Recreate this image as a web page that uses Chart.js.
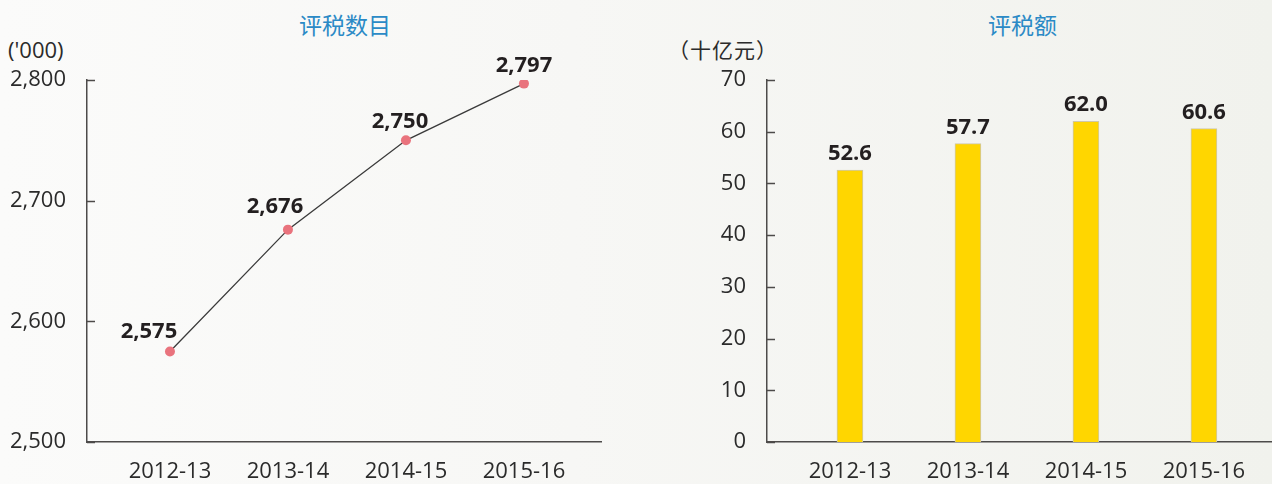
<!DOCTYPE html>
<html>
<head>
<meta charset="utf-8">
<script src="https://cdn.jsdelivr.net/npm/chart.js@4/dist/chart.umd.min.js"></script>
<style>
  html, body { margin: 0; padding: 0; }
  body {
    width: 1272px; height: 484px; overflow: hidden; position: relative;
    background: linear-gradient(90deg, #fbfbfa 0%, #f7f7f5 45%, #f1f2ed 100%);
  }
  canvas { position: absolute; top: 0; }
  #countChart { left: 0; }
  #amountChart { left: 620px; }
  .title { position: absolute; top: 13px; font: 23px "Noto Sans CJK SC", sans-serif; color: #2b8ac6; line-height: 23px; }
  .unit { position: absolute; color: #2b2b2b; line-height: 22px; }
</style>
</head>
<body>
<div class="title" style="left:299px">评税数目</div>
<div class="title" style="left:988px">评税额</div>
<div class="unit" style="left:8px; top:34px; font: 22px 'Open Sans', sans-serif;">('000)</div>
<div class="unit" style="left:668px; top:34px; font: 21px 'Noto Sans CJK SC', sans-serif; letter-spacing: 1px;">（十亿元）</div>
<canvas id="countChart" width="620" height="484"></canvas>
<canvas id="amountChart" width="652" height="484"></canvas>
<script>
const years = ['2012-13', '2013-14', '2014-15', '2015-16'];
const assessmentCount = [2575, 2676, 2750, 2797];   // '000
const assessedAmount = [52.6, 57.7, 62.0, 60.6];    // HK$ billion
const countTicks = [2500, 2600, 2700, 2800];
const amountTicks = [0, 10, 20, 30, 40, 50, 60, 70];

const ink = '#2b2b2b';
const axisColor = '#4d4b4a';
Chart.defaults.font.family = "'Open Sans', sans-serif";
Chart.defaults.font.size = 22;
Chart.defaults.color = ink;

// small tick marks drawn inside the y axis
const innerTicks = {
  id: 'innerTicks',
  afterDraw(chart) {
    const y = chart.scales.y, ctx = chart.ctx, left = chart.chartArea.left;
    ctx.save();
    ctx.strokeStyle = axisColor;
    ctx.lineWidth = 1.5;
    y.ticks.forEach(t => {
      const py = Math.round(y.getPixelForValue(t.value)) + 0.5;
      ctx.beginPath();
      ctx.moveTo(left, py);
      ctx.lineTo(left + 8, py);
      ctx.stroke();
    });
    ctx.restore();
  }
};

// bold value labels above each point / bar
const valueLabels = {
  id: 'valueLabels',
  afterDatasetsDraw(chart, args, opts) {
    const ctx = chart.ctx;
    const meta = chart.getDatasetMeta(0);
    const vals = chart.data.datasets[0].data;
    ctx.save();
    ctx.font = "bold 22px 'Open Sans', sans-serif";
    ctx.fillStyle = '#231f20';
    ctx.textAlign = 'center';
    ctx.textBaseline = 'alphabetic';
    meta.data.forEach((el, i) => {
      const dx = opts.dx ? opts.dx[i] : 0;
      const dy = opts.dy ? opts.dy[i] : -10;
      ctx.fillText(opts.format(vals[i].y), el.x + dx, el.y + dy);
    });
    ctx.restore();
  }
};

function xScale(max) {
  return {
    type: 'linear',
    offset: false,
    min: -0.703,
    max: max,
    afterBuildTicks: s => { s.ticks = years.map((_, i) => ({ value: i })); },
    afterFit: s => { s.height = 42; },
    grid: { display: false, drawTicks: false, offset: false },
    border: { display: true, color: axisColor, width: 1.5 },
    ticks: { padding: 17, maxRotation: 0, autoSkip: false, callback: v => years[v] }
  };
}

function yScale(ticks, width) {
  return {
    min: ticks[0],
    max: ticks[ticks.length - 1],
    afterBuildTicks: s => { s.ticks = ticks.map(v => ({ value: v })); },
    afterFit: s => { s.width = width; },
    grid: { display: false, drawTicks: false },
    border: { display: true, color: axisColor, width: 1.5 },
    ticks: { padding: 21, callback: v => v.toLocaleString('en-US') }
  };
}

new Chart(document.getElementById('countChart'), {
  type: 'line',
  data: {
    datasets: [{
      data: assessmentCount.map((v, i) => ({ x: i, y: v })),
      borderColor: '#3a3a3a',
      borderWidth: 1.3,
      pointRadius: 5,
      pointBackgroundColor: '#e9737d',
      pointBorderWidth: 0,
      tension: 0
    }]
  },
  options: {
    responsive: false,
    animation: false,
    layout: { padding: { top: 80, right: 19, left: 0, bottom: 0 } },
    plugins: {
      legend: { display: false },
      tooltip: { enabled: false },
      valueLabels: {
        dx: [-21, -13, -6, 0],
        dy: [-14, -17, -12, -12],
        format: v => v.toLocaleString('en-US')
      }
    },
    scales: { x: xScale(3.653), y: yScale(countTicks, 87) }
  },
  plugins: [innerTicks, valueLabels]
});

new Chart(document.getElementById('amountChart'), {
  type: 'bar',
  data: {
    datasets: [{
      data: assessedAmount.map((v, i) => ({ x: i, y: v })),
      backgroundColor: '#ffd600',
      borderColor: '#cfc8a8',
      borderWidth: 1,
      barThickness: 26
    }]
  },
  options: {
    responsive: false,
    animation: false,
    layout: { padding: { top: 80, right: 0, left: 0, bottom: 0 } },
    plugins: {
      legend: { display: false },
      tooltip: { enabled: false },
      valueLabels: {
        dy: [-10, -10, -10, -10],
        format: v => v.toFixed(1)
      }
    },
    scales: { x: xScale(3.577), y: yScale(amountTicks, 147) }
  },
  plugins: [innerTicks, valueLabels]
});
</script>
</body>
</html>
